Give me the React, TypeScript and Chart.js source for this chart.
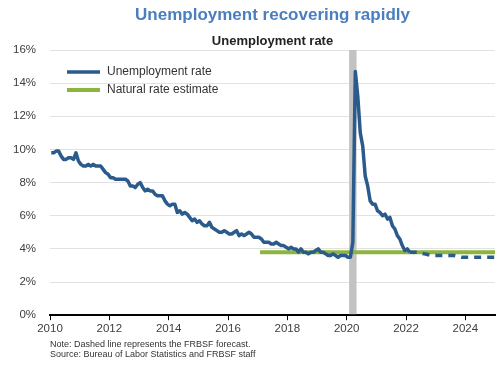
import React, { useEffect, useRef } from 'react';
import { Chart, registerables } from 'chart.js';

Chart.register(...registerables);

const TITLE = 'Unemployment recovering rapidly';
const SUBTITLE = 'Unemployment rate';
const NOTES = [
  'Note: Dashed line represents the FRBSF forecast.',
  'Source: Bureau of Labor Statistics and FRBSF staff',
];
const SERIES_NAMES = ['Unemployment rate', 'Natural rate estimate'];

// Monthly unemployment rate (%), starting January 2010
const FIRST_YEAR = 2010;
const UNEMPLOYMENT = [
  9.8, 9.8, 9.9, 9.9, 9.6, 9.4, 9.4, 9.5, 9.5, 9.4, 9.8, 9.3,
  9.1, 9.0, 9.0, 9.1, 9.0, 9.1, 9.0, 9.0, 9.0, 8.8, 8.6, 8.5,
  8.3, 8.3, 8.2, 8.2, 8.2, 8.2, 8.2, 8.1, 7.8, 7.8, 7.7, 7.9,
  8.0, 7.7, 7.5, 7.6, 7.5, 7.5, 7.3, 7.2, 7.2, 7.2, 6.9, 6.7,
  6.6, 6.7, 6.7, 6.2, 6.3, 6.1, 6.2, 6.1, 5.9, 5.7, 5.8, 5.6,
  5.7, 5.5, 5.4, 5.4, 5.6, 5.3, 5.2, 5.1, 5.0, 5.0, 5.1, 5.0,
  4.9, 4.9, 5.0, 5.1, 4.8, 4.9, 4.8, 4.9, 5.0, 4.9, 4.7, 4.7,
  4.7, 4.6, 4.4, 4.4, 4.4, 4.3, 4.3, 4.4, 4.3, 4.2, 4.2, 4.1,
  4.0, 4.1, 4.0, 4.0, 3.8, 4.0, 3.8, 3.8, 3.7, 3.8, 3.8, 3.9,
  4.0, 3.8, 3.8, 3.7, 3.6, 3.6, 3.7, 3.6, 3.5, 3.6, 3.6, 3.6,
  3.5, 3.5, 4.4, 14.7, 13.2, 11.0, 10.2, 8.4, 7.8, 6.9, 6.7, 6.7,
  6.3, 6.2, 6.0, 6.1, 5.8, 5.9, 5.4, 5.2, 4.8, 4.6, 4.2, 3.9,
  4.0, 3.8,
];

// FRBSF forecast (quarterly, year fraction at quarter midpoints)
const FORECAST_X = [2022.125, 2022.375, 2022.625, 2022.875, 2023.125, 2023.375, 2023.625, 2023.875, 2024.125, 2024.375, 2024.625, 2024.875, 2025.125];
const FORECAST_Y = [3.8, 3.8, 3.7, 3.6, 3.6, 3.6, 3.6, 3.5, 3.5, 3.5, 3.5, 3.5, 3.5];

// Natural rate estimate
const NATURAL_X = [2017.08, 2025];
const NATURAL_Y = [3.8, 3.8];

// Recession shading (Feb 2020 – Apr 2020)
const RECESSION = [2020.083, 2020.333];

const X_TICKS = [2010, 2012, 2014, 2016, 2018, 2020, 2022, 2024];
const Y_MIN = 0;
const Y_MAX = 16;
const Y_STEP = 2;

const BLUE = '#2b5b8c';
const GREEN = '#8cb43e';
const TITLE_BLUE = '#4a7ebf';
const FONT = '"Liberation Sans", Arial, Helvetica, sans-serif';

const recessionPlugin = {
  id: 'recession',
  beforeDatasetsDraw(chart: any) {
    const { ctx, chartArea, scales } = chart;
    const x0 = scales.x.getPixelForValue(RECESSION[0]);
    const x1 = scales.x.getPixelForValue(RECESSION[1]);
    ctx.save();
    ctx.fillStyle = '#c2c2c2';
    ctx.fillRect(x0, chartArea.top, x1 - x0, chartArea.bottom - chartArea.top - 1);
    ctx.restore();
  },
};

const legendNotesPlugin = {
  id: 'legendNotes',
  afterDraw(chart: any) {
    const { ctx, chartArea } = chart;
    ctx.save();
    const colors = [BLUE, GREEN];
    const widths = [3.5, 4];
    SERIES_NAMES.forEach((name, i) => {
      const y = chartArea.top + 22 + i * 18;
      const x = chartArea.left + 17;
      ctx.strokeStyle = colors[i];
      ctx.lineWidth = widths[i];
      ctx.lineCap = 'butt';
      ctx.beginPath();
      ctx.moveTo(x, y);
      ctx.lineTo(x + 33, y);
      ctx.stroke();
      ctx.fillStyle = '#333333';
      ctx.font = `12px ${FONT}`;
      ctx.textBaseline = 'middle';
      ctx.textAlign = 'left';
      ctx.fillText(name, x + 40, y);
    });
    ctx.font = `9px ${FONT}`;
    ctx.fillStyle = '#333333';
    ctx.textBaseline = 'middle';
    NOTES.forEach((t, i) => {
      ctx.fillText(t, chartArea.left, chartArea.bottom + 29 + i * 10);
    });
    ctx.restore();
  },
};

export default function App() {
  const canvasRef = useRef<HTMLCanvasElement | null>(null);

  useEffect(() => {
    document.body.style.margin = '0';
    const unempData = UNEMPLOYMENT.map((v, i) => ({ x: FIRST_YEAR + (i + 0.5) / 12, y: v }));
    const forecastData = FORECAST_X.map((x, i) => ({ x, y: FORECAST_Y[i] }));
    const naturalData = NATURAL_X.map((x, i) => ({ x, y: NATURAL_Y[i] }));

    const chart = new Chart(canvasRef.current as HTMLCanvasElement, {
      type: 'line',
      data: {
        datasets: [
          {
            label: SERIES_NAMES[0],
            data: unempData,
            borderColor: BLUE,
            borderWidth: 3.5,
            pointRadius: 0,
            tension: 0,
            borderJoinStyle: 'round',
          },
          {
            label: 'Forecast',
            data: forecastData,
            borderColor: BLUE,
            borderWidth: 3.5,
            borderDash: [7, 6],
            pointRadius: 0,
            tension: 0,
          },
          {
            label: SERIES_NAMES[1],
            data: naturalData,
            borderColor: GREEN,
            borderWidth: 4,
            pointRadius: 0,
            borderCapStyle: 'butt',
          },
        ],
      },
      options: {
        animation: false,
        responsive: true,
        maintainAspectRatio: false,
        layout: { padding: { left: 0, right: 5, top: 0, bottom: 27 } },
        plugins: {
          legend: { display: false },
          tooltip: { enabled: false },
          title: {
            display: true,
            text: TITLE,
            color: TITLE_BLUE,
            fullSize: false,
            font: { size: 17, weight: 'bold', family: FONT },
            padding: { top: 5, bottom: 8 },
          },
          subtitle: {
            display: true,
            text: SUBTITLE,
            color: '#222222',
            fullSize: false,
            font: { size: 13, weight: 'bold', family: FONT },
            padding: { top: 0, bottom: 1 },
          },
        },
        scales: {
          x: {
            type: 'linear',
            min: 2010,
            max: 2025,
            afterBuildTicks: (scale: any) => {
              scale.ticks = X_TICKS.map((v) => ({ value: v }));
            },
            ticks: {
              color: '#404040',
              font: { size: 11.5, family: FONT },
              padding: 2,
              maxRotation: 0,
              autoSkip: false,
              callback: (v: any) => String(v),
            },
            grid: {
              display: true,
              drawOnChartArea: false,
              drawTicks: true,
              tickLength: 5,
              color: '#000000',
              lineWidth: 1,
            },
            border: { display: true, color: '#000000', width: 2 },
          },
          y: {
            min: Y_MIN,
            max: Y_MAX,
            afterFit: (scale: any) => {
              scale.width = 50;
            },
            ticks: {
              stepSize: Y_STEP,
              color: '#404040',
              font: { size: 11.5, family: FONT },
              padding: 14,
              callback: (v: any) => `${v}%`,
            },
            grid: { color: '#e2e2e2', lineWidth: 1, drawTicks: false },
            border: { display: false },
          },
        },
      },
      plugins: [recessionPlugin, legendNotesPlugin],
    } as any);

    return () => chart.destroy();
  }, []);

  return (
    <div style={{ position: 'relative', width: 500, height: 365 }}>
      <canvas ref={canvasRef} />
    </div>
  );
}
